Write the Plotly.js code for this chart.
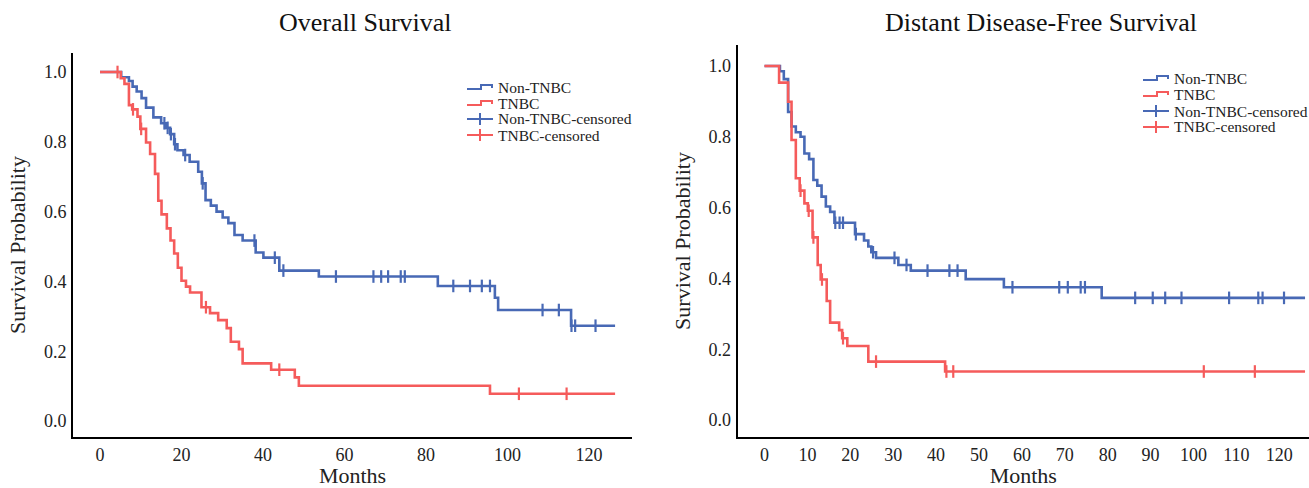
<!DOCTYPE html>
<html>
<head>
<meta charset="utf-8">
<script src="https://cdn.plot.ly/plotly-3.0.1.min.js"></script>
<style>html,body{margin:0;padding:0;background:#fff;}#chart{width:1309px;height:488px;}</style>
</head>
<body>
<div id="chart"></div>
<script>
// ---- Overall Survival: Non-TNBC ----
const osNonTimes = [0, 5.2, 7.1, 8.0, 9.0, 10.2, 11.3, 13.1, 15.0, 16.2, 17.2, 18.2, 19.0, 20.5, 22.0, 24.1, 25.0, 25.9, 27.2, 28.6, 30.1, 31.5, 33.0, 35.0, 38.2, 40.1, 44.0, 53.7, 82.9, 96.9, 97.7, 115.6, 126.4];
const osNonSurv  = [1.0, 0.985, 0.974, 0.958, 0.944, 0.925, 0.898, 0.870, 0.853, 0.840, 0.822, 0.793, 0.776, 0.762, 0.743, 0.714, 0.681, 0.633, 0.617, 0.600, 0.583, 0.567, 0.533, 0.517, 0.483, 0.468, 0.431, 0.414, 0.387, 0.353, 0.318, 0.273, 0.273];
const osNonCensored = [15.8, 16.6, 17.4, 18.4, 20.9, 25.2, 37.9, 42.9, 45.0, 57.9, 67.1, 69.0, 70.7, 73.8, 74.8, 86.7, 90.8, 93.7, 95.7, 108.6, 112.6, 115.7, 116.6, 121.6];
// ---- Overall Survival: TNBC ----
const osTnTimes = [0, 5.1, 6.0, 7.1, 7.9, 9.2, 9.9, 11.3, 12.3, 13.5, 14.3, 15.1, 16.4, 17.3, 18.2, 19.1, 20.0, 21.1, 22.1, 24.9, 27.0, 29.0, 31.1, 32.1, 34.1, 35.0, 42.0, 47.8, 48.8, 95.7, 126.4];
const osTnSurv  = [1.0, 0.982, 0.966, 0.905, 0.893, 0.872, 0.837, 0.798, 0.765, 0.708, 0.631, 0.592, 0.552, 0.517, 0.480, 0.439, 0.402, 0.385, 0.368, 0.326, 0.309, 0.289, 0.266, 0.227, 0.206, 0.165, 0.147, 0.125, 0.101, 0.078, 0.078];
const osTnCensored = [4.3, 8.1, 10.1, 26.0, 44.0, 102.8, 114.5];
// ---- Distant Disease-Free Survival: Non-TNBC ----
const dfsNonTimes = [0, 3.6, 4.5, 5.5, 6.3, 7.3, 8.4, 9.3, 10.4, 11.4, 12.3, 13.3, 14.3, 15.3, 16.3, 21.1, 23.2, 24.2, 24.9, 26.0, 31.2, 34.1, 46.9, 55.8, 78.6, 126.0];
const dfsNonSurv  = [1.0, 0.985, 0.963, 0.87, 0.829, 0.813, 0.800, 0.753, 0.737, 0.678, 0.662, 0.631, 0.603, 0.588, 0.557, 0.525, 0.507, 0.490, 0.474, 0.458, 0.438, 0.422, 0.398, 0.375, 0.345, 0.345];
const dfsNonCensored = [16.5, 17.5, 18.3, 21.3, 25.3, 30.3, 33.1, 38.0, 43.1, 45.0, 57.8, 68.7, 70.7, 73.7, 74.7, 86.4, 90.5, 93.4, 97.2, 108.3, 115.1, 116.1, 121.1];
// ---- Distant Disease-Free Survival: TNBC ----
const dfsTnTimes = [0, 3.4, 5.5, 6.3, 7.3, 8.2, 9.3, 10.1, 11.2, 12.4, 13.1, 14.5, 15.3, 17.4, 18.1, 19.3, 24.2, 42.1, 126.0];
const dfsTnSurv  = [1.0, 0.953, 0.899, 0.791, 0.683, 0.648, 0.612, 0.591, 0.516, 0.438, 0.397, 0.336, 0.275, 0.254, 0.231, 0.209, 0.165, 0.137, 0.137];
const dfsTnCensored = [8.4, 10.3, 11.4, 13.4, 18.3, 26.0, 42.4, 44.0, 102.4, 114.3];

const seriesNames = ['Non-TNBC', 'TNBC', 'Non-TNBC-censored', 'TNBC-censored'];
const panelTitles = ['Overall Survival', 'Distant Disease-Free Survival'];

const BLUE = '#4869b5', RED = '#f55b5b';
const FONT = '"Liberation Serif", "Times New Roman", serif';
const W = 1309, H = 488;

function levelAt(times, surv, t) {
  let v = surv[0];
  for (let i = 0; i < times.length; i++) { if (times[i] <= t) v = surv[i]; }
  return v;
}
function stepTrace(times, surv, color, xa, ya) {
  return {x: times, y: surv, mode: 'lines', line: {shape: 'hv', color: color, width: 2.6},
          xaxis: xa, yaxis: ya, showlegend: false, hoverinfo: 'skip'};
}
function censTrace(cens, times, surv, color, xa, ya) {
  return {x: cens, y: cens.map(t => levelAt(times, surv, t)), mode: 'markers',
          marker: {symbol: 'line-ns-open', size: 9, color: color, line: {color: color, width: 2.2}},
          xaxis: xa, yaxis: ya, showlegend: false, hoverinfo: 'skip'};
}

const data = [
  stepTrace(osNonTimes, osNonSurv, BLUE, 'x', 'y'),
  stepTrace(osTnTimes, osTnSurv, RED, 'x', 'y'),
  censTrace(osNonCensored, osNonTimes, osNonSurv, BLUE, 'x', 'y'),
  censTrace(osTnCensored, osTnTimes, osTnSurv, RED, 'x', 'y'),
  stepTrace(dfsNonTimes, dfsNonSurv, BLUE, 'x2', 'y2'),
  stepTrace(dfsTnTimes, dfsTnSurv, RED, 'x2', 'y2'),
  censTrace(dfsNonCensored, dfsNonTimes, dfsNonSurv, BLUE, 'x2', 'y2'),
  censTrace(dfsTnCensored, dfsTnTimes, dfsTnSurv, RED, 'x2', 'y2')
];

const px = v => v / W, py = v => 1 - v / H;

function axisX(domain, range, dtick) {
  return {domain: domain, range: range, dtick: dtick, tick0: 0, showgrid: false, zeroline: false,
          showline: true, linecolor: '#000', linewidth: 2, ticks: '', ticklen: 0, ticklabelstandoff: 0,
          tickfont: {family: FONT, size: 18, color: '#222'},
          title: {text: 'Months', font: {family: FONT, size: 22, color: '#222'}, standoff: 10}};
}
function axisY(domain, range, anchor) {
  return {domain: domain, range: range, dtick: 0.2, tick0: 0, tickformat: '.1f', showgrid: false, zeroline: false,
          showline: true, linecolor: '#000', linewidth: 2, ticks: '', ticklen: 0, ticklabelstandoff: 1, anchor: anchor,
          tickfont: {family: FONT, size: 18, color: '#222'},
          title: {text: 'Survival Probability', font: {family: FONT, size: 22, color: '#222'}, standoff: 12}};
}

const shapes = [], annotations = [];
// panel titles
annotations.push({xref: 'paper', yref: 'paper', x: px(365), y: py(23), text: panelTitles[0], showarrow: false,
  xanchor: 'center', yanchor: 'middle', font: {family: FONT, size: 26, color: '#111'}});
annotations.push({xref: 'paper', yref: 'paper', x: px(1041), y: py(23), text: panelTitles[1], showarrow: false,
  xanchor: 'center', yanchor: 'middle', font: {family: FONT, size: 26, color: '#111'}});

// custom legends (symbol + label)
function legend(x0, rows) {
  const colors = [BLUE, RED, BLUE, RED];
  rows.forEach((yc, i) => {
    const c = colors[i];
    if (i < 2) {
      const p = 'M' + px(x0) + ',' + py(yc + 2) + ' L' + px(x0 + 14) + ',' + py(yc + 2) +
                ' L' + px(x0 + 14) + ',' + py(yc - 2) + ' L' + px(x0 + 25) + ',' + py(yc - 2) +
                ' L' + px(x0 + 25) + ',' + py(yc + 1);
      shapes.push({type: 'path', xref: 'paper', yref: 'paper', path: p, line: {color: c, width: 2}});
    } else {
      shapes.push({type: 'line', xref: 'paper', yref: 'paper', x0: px(x0), x1: px(x0 + 26), y0: py(yc), y1: py(yc), line: {color: c, width: 2}});
      shapes.push({type: 'line', xref: 'paper', yref: 'paper', x0: px(x0 + 13), x1: px(x0 + 13), y0: py(yc - 6), y1: py(yc + 6), line: {color: c, width: 2}});
    }
    annotations.push({xref: 'paper', yref: 'paper', x: px(x0 + 29), y: py(yc), text: seriesNames[i], showarrow: false,
      xanchor: 'left', yanchor: 'middle', font: {family: FONT, size: 15.5, color: '#222'}});
  });
}
legend(467, [87, 103, 119, 135]);
legend(1143, [78, 94, 111, 127]);

const layout = {
  width: W, height: H, margin: {l: 0, r: 0, t: 0, b: 0}, paper_bgcolor: '#fff', plot_bgcolor: '#fff',
  showlegend: false,
  xaxis: axisX([px(73), px(632)], [(73 - 100) / 4.075, (632 - 100) / 4.075], 20),
  yaxis: axisY([1 - 437 / H, 1 - 53 / H], [(421 - 437) / 349, (421 - 53) / 349], 'x'),
  xaxis2: Object.assign(axisX([px(737.5), 1], [(737.5 - 764.5) / 4.29, (1309 - 764.5) / 4.29], 10), {anchor: 'y2'}),
  yaxis2: axisY([1 - 437 / H, 1 - 45 / H], [(420 - 437) / 354, (420 - 45) / 354], 'x2'),
  shapes: shapes, annotations: annotations
};
layout.xaxis.anchor = 'y';

Plotly.newPlot('chart', data, layout, {displayModeBar: false, staticPlot: true});
</script>
</body>
</html>
